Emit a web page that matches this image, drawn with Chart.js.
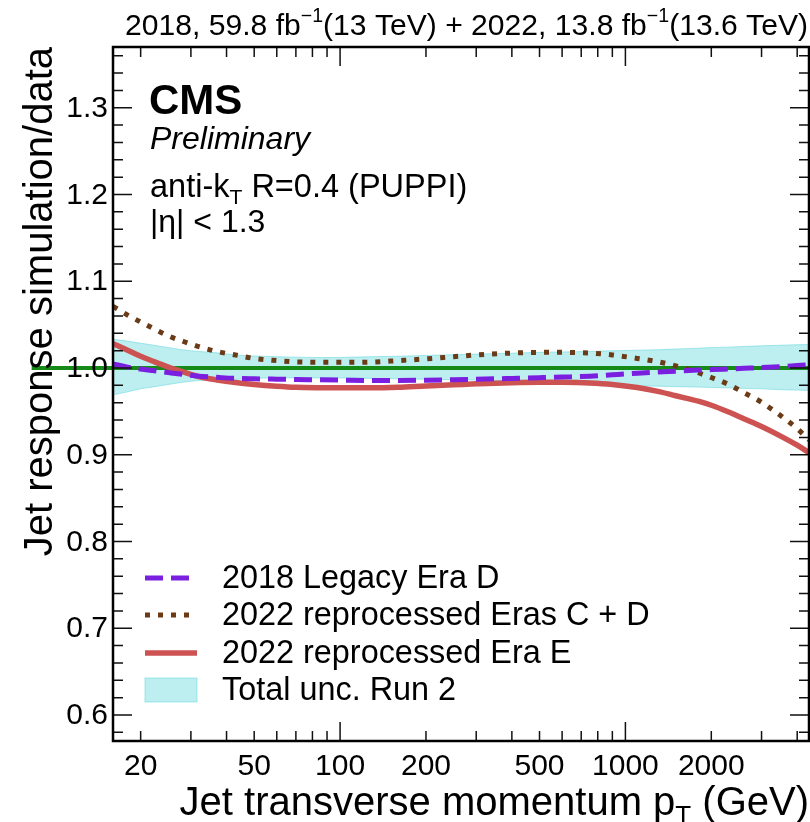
<!DOCTYPE html>
<html>
<head>
<meta charset="utf-8">
<script src="https://cdn.jsdelivr.net/npm/chart.js@4.4.1/dist/chart.umd.min.js"></script>
<style>
  html, body { margin: 0; padding: 0; background: #fff; }
  #wrap { width: 810px; height: 822px; }
</style>
</head>
<body>
<div id="wrap"><canvas id="chart" width="810" height="822"></canvas></div>
<script>
const FONT = "'Liberation Sans', Arial, Helvetica, sans-serif";

// jet pT grid (GeV)
const ptBins = [16, 18, 20, 22, 25, 28, 32, 37, 43, 50, 60, 70, 85, 100, 130, 160, 200, 250, 300, 400,
  500, 600, 750, 900, 1100, 1300, 1500, 1800, 2000, 2300, 2600, 3000, 3500, 4000, 4400];

// 2018 Legacy Era D
const legacy2018 = [1.0046, 1.001, 0.9988, 0.997, 0.9947, 0.9927, 0.9905, 0.9892, 0.988, 0.9875, 0.9871,
  0.9868, 0.9863, 0.986, 0.9856, 0.9856, 0.9859, 0.9864, 0.987, 0.988, 0.9888, 0.9895, 0.9905, 0.9922,
  0.994, 0.9953, 0.9963, 0.9976, 0.9981, 0.9989, 0.9996, 1.0004, 1.0016, 1.0029, 1.0038];

// 2022 reprocessed Eras C + D
const reproCD = [1.071, 1.061, 1.053, 1.046, 1.037, 1.031, 1.0245, 1.019, 1.015, 1.011, 1.0085, 1.007,
  1.0066, 1.0065, 1.0068, 1.0085, 1.0105, 1.013, 1.015, 1.0172, 1.018, 1.018, 1.0172, 1.015, 1.011,
  1.0072, 1.0025, 0.9945, 0.989, 0.981, 0.9715, 0.9605, 0.945, 0.930, 0.917];

// 2022 reprocessed Era E
const reproE = [1.028, 1.0205, 1.0135, 1.008, 1.001, 0.9957, 0.990, 0.9862, 0.9832, 0.981, 0.979, 0.9778,
  0.9773, 0.9772, 0.9771, 0.9778, 0.9793, 0.9806, 0.9817, 0.9831, 0.9836, 0.9835, 0.9827, 0.981, 0.9775,
  0.973, 0.968, 0.9617, 0.957, 0.9492, 0.9415, 0.9325, 0.9215, 0.911, 0.9025];

// Total unc. Run 2 band
const uncUp = [1.033, 1.031, 1.0285, 1.0265, 1.0235, 1.021, 1.019, 1.0175, 1.015, 1.0138, 1.013, 1.0125,
  1.012, 1.0122, 1.013, 1.0135, 1.0145, 1.0152, 1.016, 1.017, 1.018, 1.0185, 1.019, 1.0198, 1.0205,
  1.021, 1.0218, 1.0228, 1.0235, 1.024, 1.0248, 1.0255, 1.0262, 1.0268, 1.027];
const uncDown = [0.969, 0.9725, 0.976, 0.978, 0.981, 0.9835, 0.9855, 0.9865, 0.987, 0.988, 0.9885, 0.9885,
  0.9885, 0.9885, 0.988, 0.9875, 0.987, 0.9865, 0.986, 0.985, 0.9838, 0.9825, 0.981, 0.9802, 0.9795,
  0.979, 0.9785, 0.978, 0.9775, 0.977, 0.9765, 0.976, 0.975, 0.9745, 0.974];

// unity reference line
const refX = [8.3, 4400];
const refY = [1, 1];

// axis ticks / labels
const xLabelValues = [20, 50, 100, 200, 500, 1000, 2000];
const yLabelValues = [0.6, 0.7, 0.8, 0.9, 1.0, 1.1, 1.2, 1.3];

const toPoints = (xs, ys) => xs.map((x, i) => ({ x: x, y: ys[i] }));

const PURPLE = '#7a1fe0';
const BROWN = '#6b3b17';
const RED = '#cd5252';
const GREEN = '#168a16';

const datasets = [
  {
    label: '2018 Legacy Era D',
    data: toPoints(ptBins, legacy2018),
    borderColor: PURPLE, borderWidth: 5, borderDash: [18, 8], borderCapStyle: 'butt',
    pointRadius: 0, fill: false, cubicInterpolationMode: 'monotone',
  },
  {
    label: '2022 reprocessed Eras C + D',
    data: toPoints(ptBins, reproCD),
    borderColor: BROWN, borderWidth: 5, borderDash: [5, 8], borderCapStyle: 'butt',
    pointRadius: 0, fill: false, cubicInterpolationMode: 'monotone',
  },
  {
    label: '2022 reprocessed Era E',
    data: toPoints(ptBins, reproE),
    borderColor: RED, borderWidth: 5.5,
    pointRadius: 0, fill: false, cubicInterpolationMode: 'monotone',
  },
  {
    label: 'ref',
    data: toPoints(refX, refY),
    borderColor: GREEN, borderWidth: 4,
    pointRadius: 0, fill: false, clip: false,
  },
  {
    label: 'Total unc. Run 2',
    data: toPoints(ptBins, uncUp),
    borderColor: 'rgba(100, 215, 222, 0.55)', borderWidth: 1,
    backgroundColor: 'rgba(108, 217, 222, 0.45)',
    pointRadius: 0, fill: '+1', cubicInterpolationMode: 'monotone',
  },
  {
    label: 'unc down',
    data: toPoints(ptBins, uncDown),
    borderColor: 'rgba(100, 215, 222, 0.55)', borderWidth: 1,
    pointRadius: 0, fill: false, cubicInterpolationMode: 'monotone',
  },
];

// draw text made of normal / sup / sub pieces
function richText(ctx, parts, x, y, size, opts) {
  opts = opts || {};
  const segs = parts.map(([t, m]) => {
    const s = m ? size * 0.65 : size;
    ctx.font = `${opts.style || ''} ${s}px ${FONT}`;
    return { t, m, s, w: ctx.measureText(t).width };
  });
  const total = segs.reduce((a, b) => a + b.w, 0);
  ctx.save();
  ctx.textAlign = 'left';
  ctx.textBaseline = 'alphabetic';
  if (opts.fitFrom !== undefined) {
    ctx.translate(opts.fitFrom, y);
    ctx.scale((x - opts.fitFrom) / total, 1);
    y = 0;
    x = 0;
  } else if (opts.align === 'right') {
    x = x - total;
  }
  let cx = x;
  segs.forEach(({ t, m, s, w }) => {
    ctx.font = `${opts.style || ''} ${s}px ${FONT}`;
    const dy = m === 'sup' ? -size * 0.42 : m === 'sub' ? size * 0.22 : 0;
    ctx.fillText(t, cx, y + dy);
    cx += w;
  });
  ctx.restore();
}

const cmsDecor = {
  id: 'cmsDecor',
  afterDraw(chart) {
    const ctx = chart.ctx;
    const xs = chart.scales.x;
    const ys = chart.scales.y;
    const { left, right, top, bottom } = chart.chartArea;

    ctx.save();
    ctx.fillStyle = '#000';
    ctx.strokeStyle = '#111';

    // y ticks on both sides
    ctx.lineWidth = 1.5;
    for (let i = 29; i <= 68; i++) {
      const v = i / 50;
      const py = ys.getPixelForValue(v);
      const len = i % 5 === 0 ? 19 : 10;
      ctx.beginPath();
      ctx.moveTo(left, py); ctx.lineTo(left + len, py);
      ctx.moveTo(right, py); ctx.lineTo(right - len, py);
      ctx.stroke();
    }
    // x ticks top and bottom
    [10, 100, 1000].forEach((d) => {
      for (let k = 1; k <= 9; k++) {
        const v = k * d;
        if (v < xs.min || v > xs.max) continue;
        const px = xs.getPixelForValue(v);
        const len = k === 1 ? 19 : 10;
        ctx.beginPath();
        ctx.moveTo(px, bottom); ctx.lineTo(px, bottom - len);
        ctx.moveTo(px, top); ctx.lineTo(px, top + len);
        ctx.stroke();
      }
    });

    // frame
    ctx.lineWidth = 2.5;
    ctx.strokeStyle = '#000';
    ctx.strokeRect(left, top, right - left, bottom - top);

    // tick labels
    ctx.font = `30px ${FONT}`;
    ctx.textAlign = 'right';
    ctx.textBaseline = 'middle';
    yLabelValues.forEach((v) => {
      ctx.fillText(v.toFixed(1), left - 5, ys.getPixelForValue(v) + 1);
    });
    ctx.textAlign = 'center';
    ctx.textBaseline = 'alphabetic';
    xLabelValues.forEach((v) => {
      ctx.fillText(String(v), xs.getPixelForValue(v), 775);
    });

    // axis titles
    richText(ctx, [['Jet transverse momentum p', ''], ['T', 'sub'], [' (GeV)', '']], right, 815, 40, { align: 'right' });
    ctx.save();
    ctx.translate(52, top);
    ctx.rotate(-Math.PI / 2);
    ctx.font = `40px ${FONT}`;
    ctx.textAlign = 'right';
    ctx.textBaseline = 'alphabetic';
    ctx.fillText('Jet response simulation/data', 0, 0);
    ctx.restore();

    // lumi title
    richText(ctx, [
      ['2018, 59.8 fb', ''], ['\u22121', 'sup'], ['(13 TeV) + 2022, 13.8 fb', ''], ['\u22121', 'sup'], ['(13.6 TeV)', ''],
    ], 808, 35, 30, { fitFrom: 125 });

    // CMS labels
    ctx.textAlign = 'left';
    ctx.font = `bold 42px ${FONT}`;
    ctx.fillText('CMS', 149, 114);
    ctx.font = `italic 32px ${FONT}`;
    ctx.fillText('Preliminary', 150, 149);
    richText(ctx, [['anti-k', ''], ['T', 'sub'], [' R=0.4 (PUPPI)', '']], 150, 197, 32.5, {});
    ctx.font = `32px ${FONT}`;
    ctx.fillText('|\u03b7| < 1.3', 150, 232);

    // legend
    const rows = [578, 615, 653, 690];
    const x1 = 145, x2 = 197;
    [0, 1, 2].forEach((i, r) => {
      const ds = chart.data.datasets[i];
      ctx.save();
      ctx.strokeStyle = ds.borderColor;
      ctx.lineWidth = ds.borderWidth;
      ctx.lineCap = 'butt';
      ctx.setLineDash(ds.borderDash || []);
      ctx.beginPath();
      ctx.moveTo(x1, rows[r]); ctx.lineTo(x2, rows[r]);
      ctx.stroke();
      ctx.restore();
    });
    const band = chart.data.datasets[4];
    ctx.fillStyle = band.backgroundColor;
    ctx.fillRect(x1, rows[3] - 12, x2 - x1, 24);
    ctx.strokeStyle = band.borderColor;
    ctx.lineWidth = 1;
    ctx.strokeRect(x1, rows[3] - 12, x2 - x1, 24);

    ctx.fillStyle = '#000';
    ctx.font = `32.4px ${FONT}`;
    ctx.textBaseline = 'middle';
    const legendLabels = [datasets[0].label, datasets[1].label, datasets[2].label, datasets[4].label];
    legendLabels.forEach((t, r) => ctx.fillText(t, 222, rows[r] + 1));

    ctx.restore();
  },
};

new Chart(document.getElementById('chart'), {
  type: 'line',
  data: { datasets: datasets },
  options: {
    responsive: false,
    animation: false,
    devicePixelRatio: 1,
    layout: { padding: { left: 113, right: 1, top: 47, bottom: 81 } },
    plugins: { legend: { display: false }, tooltip: { enabled: false } },
    scales: {
      x: { type: 'logarithmic', min: 16, max: 4400, display: false },
      y: { type: 'linear', min: 0.57, max: 1.37, display: false },
    },
  },
  plugins: [cmsDecor],
});
</script>
</body>
</html>
